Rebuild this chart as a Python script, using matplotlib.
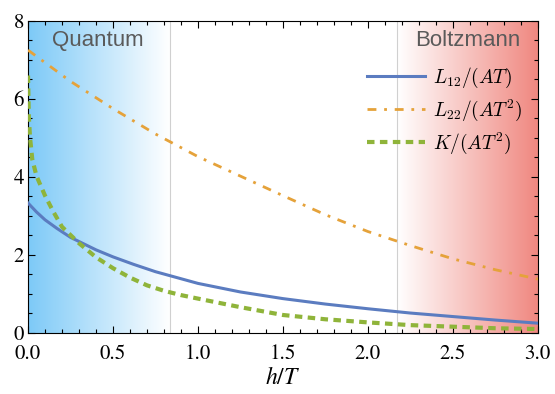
import numpy as np
import matplotlib
matplotlib.use("Agg")
import matplotlib.pyplot as plt
from matplotlib.font_manager import FontProperties
from matplotlib.ticker import MultipleLocator, FormatStrFormatter

plt.rcParams['mathtext.fontset'] = 'stix'
plt.rcParams['font.family'] = 'STIXGeneral'

# curves
h_l12 = [0.0, 0.05, 0.1, 0.17, 0.25, 0.4, 0.5, 0.62, 0.75, 0.85, 1.0, 1.25, 1.5, 1.75, 2.0, 2.25, 2.5, 2.75, 3.0]
l12 = [3.33, 3.1, 2.9, 2.68, 2.45, 2.13, 1.95, 1.76, 1.57, 1.45, 1.27, 1.05, 0.88, 0.74, 0.62, 0.51, 0.42, 0.33, 0.25]

h_l22 = [0.0, 0.25, 0.5, 0.75, 1.0, 1.25, 1.5, 1.75, 2.0, 2.25, 2.5, 2.75, 3.0]
l22 = [7.25, 6.45, 5.75, 5.1, 4.52, 4.02, 3.52, 3.03, 2.6, 2.24, 1.9, 1.62, 1.38]

h_k = [0.0, 0.005, 0.012, 0.025, 0.05, 0.1, 0.15, 0.2, 0.3, 0.4, 0.5, 0.6, 0.7, 0.8, 0.9,
       1.0, 1.25, 1.5, 1.75, 2.0, 2.25, 2.5, 2.75, 3.0]
k = [6.6, 5.5, 5.0, 4.45, 4.02, 3.52, 3.1, 2.72, 2.3, 1.94, 1.66, 1.42, 1.22, 1.08, 0.97,
     0.88, 0.66, 0.46, 0.35, 0.27, 0.2, 0.16, 0.12, 0.1]

quantum_edge = 0.835
boltzmann_edge = 2.17

fig = plt.figure(figsize=(5.55, 3.94), dpi=100)
ax = fig.add_axes([0.0505, 0.155, 0.9185, 0.792])

# shaded regimes
blue = np.array([0.49, 0.79, 0.97])
red = np.array([0.94, 0.53, 0.50])
t = np.linspace(0, 1, 256)
grad_b = (1 - t)[:, None] * blue + t[:, None] * np.ones(3)
grad_r = (1 - t)[:, None] * np.ones(3) + t[:, None] * red
ax.imshow(grad_b[None, :, :], extent=[0, quantum_edge, 0, 8], aspect='auto', zorder=0)
ax.imshow(grad_r[None, :, :], extent=[boltzmann_edge, 3, 0, 8], aspect='auto', zorder=0)
ax.axvline(quantum_edge, color='#d0d0d0', lw=0.8, zorder=1)
ax.axvline(boltzmann_edge, color='#d0d0d0', lw=0.8, zorder=1)

ax.plot(h_l12, l12, color='#5b7cc0', lw=2.2, label=r'$L_{12}/(AT)$', zorder=3)
ax.plot(h_l22, l22, color='#e5a23a', lw=2.0, dashes=(3.2, 2.8, 1, 2.8), label=r'$L_{22}/(AT^2)$', zorder=3)
ax.plot(h_k, k, color='#8fb43a', lw=3.0, dashes=(1.8, 1.3), label=r'$K/(AT^2)$', zorder=3)

ax.set_xlim(0, 3)
ax.set_ylim(0, 8)
ax.xaxis.set_major_locator(MultipleLocator(0.5))
ax.xaxis.set_minor_locator(MultipleLocator(0.1))
ax.yaxis.set_major_locator(MultipleLocator(2))
ax.yaxis.set_minor_locator(MultipleLocator(0.5))
ax.xaxis.set_major_formatter(FormatStrFormatter('%.1f'))
ax.tick_params(which='both', direction='in', top=True, right=True, labelsize=15, width=0.8)
ax.tick_params(which='major', length=5)
ax.tick_params(which='minor', length=3)
ax.tick_params(axis='x', pad=8)
ax.tick_params(axis='y', pad=3)
for s in ax.spines.values():
    s.set_linewidth(0.8)
ax.set_xlabel(r'$h/T$', fontsize=17, labelpad=2)

ax.text(0.41, 7.5, 'Quantum', family='Liberation Sans', fontsize=16, color='#5a5a5a', ha='center', va='center')
ax.text(2.59, 7.5, 'Boltzmann', family='Liberation Sans', fontsize=16, color='#5a5a5a', ha='center', va='center')

leg = ax.legend(loc='upper left', bbox_to_anchor=(0.665, 0.855), frameon=False,
                borderaxespad=0, borderpad=0,
                prop=FontProperties(size=14, math_fontfamily='cm'),
                handlelength=3.0, labelspacing=0.38, handletextpad=0.4)

fig.savefig('out.png', dpi=100)
